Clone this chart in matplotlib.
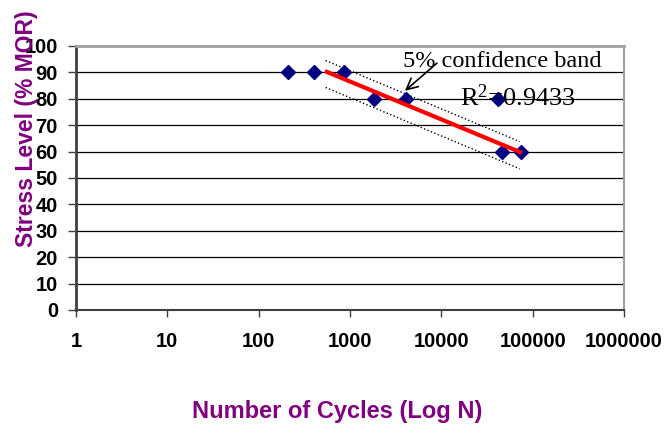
import matplotlib.pyplot as plt

plt.rcParams['mathtext.fontset'] = 'custom'
plt.rcParams['mathtext.rm'] = 'Liberation Serif'

# Fatigue test points
cycles = [211, 405, 861, 1850, 4115, 41500, 45900, 74800]
stress = [90, 90, 90, 80, 80, 80, 60, 60]

# Regression line and 5% confidence band
fit_n = [557, 72900]
fit_s = [90.2, 59.8]
band_upper = [94.5, 63.8]
band_lower = [84.3, 53.5]
band_n = [540, 72000]

y_ticks = [0, 10, 20, 30, 40, 50, 60, 70, 80, 90, 100]
x_ticks = [1, 10, 100, 1000, 10000, 100000, 1000000]
x_labels = ['1', '10', '100', '1000', '10000', '100000', '1000000']

purple = '#800080'

fig = plt.figure(figsize=(6.66, 4.29), dpi=100)
ax = fig.add_axes([0.1141, 0.2774, 0.937 - 0.1141, 0.8928 - 0.2774])

ax.set_xscale('log')
ax.set_xlim(1, 1000000)
ax.set_ylim(0, 100)

# horizontal gridlines
for y in y_ticks[1:-1]:
    ax.axhline(y, color='black', linewidth=0.9, zorder=1)

ax.plot(band_n, band_upper, color='black', linestyle=':', linewidth=1, zorder=2)
ax.plot(band_n, band_lower, color='black', linestyle=':', linewidth=1, zorder=2)

ax.plot(cycles, stress, linestyle='none', marker='D', markersize=7,
        color='#000080', zorder=3)
ax.plot(fit_n, fit_s, color='red', linewidth=3, zorder=4)

ax.text(3800, 94.0, '5% confidence band', fontsize=17.5,
        family='Liberation Serif', ha='left', va='center', zorder=5)
ax.annotate('', xy=(3990, 83), xytext=(8950, 93.5),
            arrowprops=dict(arrowstyle='->', color='black', lw=1.2,
                            shrinkA=0, shrinkB=0, mutation_scale=20))
ax.text(15900, 80.4, r'$\mathregular{R^2}$=0.9433', fontsize=19,
        family='Liberation Serif', ha='left', va='center', zorder=5)

ax.set_xticks(x_ticks)
ax.set_xticklabels(x_labels)
ax.minorticks_off()
ax.set_yticks(y_ticks)

for lab in ax.get_xticklabels() + ax.get_yticklabels():
    lab.set_fontweight('bold')
    lab.set_fontfamily('Liberation Sans')
    lab.set_fontsize(14.5)

ax.tick_params(axis='x', direction='out', length=5, width=1, pad=11, color='#404040')
ax.tick_params(axis='y', direction='out', length=6, width=1, pad=7, color='#404040')

ax.spines['left'].set_color('#404040')
ax.spines['left'].set_linewidth(2)
ax.spines['bottom'].set_color('#404040')
ax.spines['bottom'].set_linewidth(1.5)
ax.spines['top'].set_color('#a0a0a0')
ax.spines['top'].set_linewidth(2)
ax.spines['right'].set_color('#a0a0a0')
ax.spines['right'].set_linewidth(1.5)

fig.text(0.506, 0.04, 'Number of Cycles (Log N)', color=purple, fontsize=17,
         fontweight='bold', family='Liberation Sans', ha='center', va='center')
fig.text(0.040, 0.70, 'Stress Level (% MOR)', color=purple, fontsize=16.5,
         fontweight='bold', family='Liberation Sans', ha='center', va='center',
         rotation=90)

fig.savefig('out.png', dpi=100)
